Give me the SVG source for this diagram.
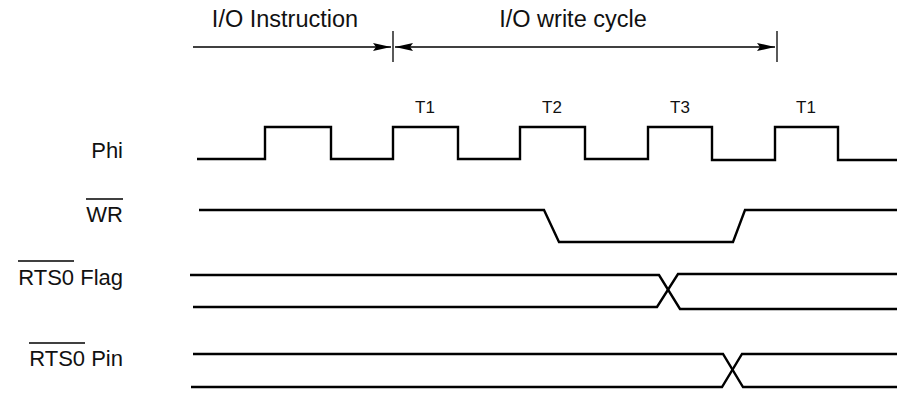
<svg xmlns="http://www.w3.org/2000/svg" width="897" height="394" viewBox="0 0 897 394">
<style>
text{font-family:"Liberation Sans",Arial,sans-serif;fill:#111}
.big{font-size:23.5px}
.lbl{font-size:22px;text-anchor:end}
.t{font-size:17px;text-anchor:middle}
.sig{fill:none;stroke:#000;stroke-width:2.4;stroke-linejoin:miter}
.dim{fill:none;stroke:#000;stroke-width:1.3}
.bar{stroke:#000;stroke-width:1.6}
</style>
<defs>
<marker id="ah" viewBox="0 0 18 8" refX="18" refY="4" markerWidth="18" markerHeight="8" markerUnits="userSpaceOnUse" orient="auto-start-reverse">
<path d="M0,0 L18,4 L0,8 L3,4 z" fill="#000"/>
</marker>
</defs>
<g id="labels-top">
<text class="big" x="285" y="27" text-anchor="middle">I/O Instruction</text>
<text class="big" x="573" y="27" text-anchor="middle">I/O write cycle</text>
</g>
<g id="connectors">
<line class="dim" x1="193" y1="47" x2="391" y2="47" marker-end="url(#ah)"/>
<line class="dim" x1="395" y1="47" x2="775" y2="47" marker-start="url(#ah)" marker-end="url(#ah)"/>
<line class="dim" x1="393" y1="31" x2="393" y2="62"/>
<line class="dim" x1="777" y1="31" x2="777" y2="62"/>
</g>
<g id="phi">
<text class="lbl" x="123" y="158">Phi</text>
<path class="sig" d="M197,159 H265 V127 H331 V159 H393 V127 H458 V159 H520 V127 H585 V159 H648 V127 H712 V160 H775 V127 H838 V160 H897"/>
<text class="t" x="425" y="113">T1</text>
<text class="t" x="552" y="113">T2</text>
<text class="t" x="680" y="113">T3</text>
<text class="t" x="806" y="113">T1</text>
</g>
<g id="wr">
<text class="lbl" x="123" y="222">WR</text>
<line class="bar" x1="86" y1="199" x2="123" y2="199"/>
<path class="sig" d="M199,210 H544 L559,242 H733 L745,210 H897"/>
</g>
<g id="rts0-flag">
<text class="lbl" x="123" y="285">RTS0 Flag</text>
<line class="bar" x1="18" y1="261" x2="74" y2="261"/>
<path class="sig" d="M190,275 H659 L680,309 H897"/>
<path class="sig" d="M193,307 H657 L678,274 H897"/>
</g>
<g id="rts0-pin">
<text class="lbl" x="123" y="366">RTS0 Pin</text>
<line class="bar" x1="29" y1="343" x2="85" y2="343"/>
<path class="sig" d="M193,354 H723 L743,387 H897"/>
<path class="sig" d="M191,387 H722 L742,354 H897"/>
</g>
</svg>
